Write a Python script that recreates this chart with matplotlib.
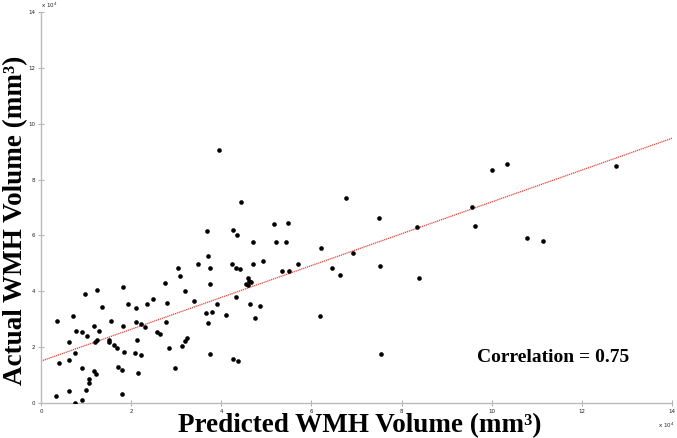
import matplotlib
matplotlib.use("Agg")
import matplotlib.pyplot as plt
import numpy as np

# Data (units of 1e4 mm^3)
predicted = [0.35, 0.41, 0.33, 0.63, 0.62, 0.63, 0.72, 0.75, 0.75, 0.78,
             0.90, 0.92, 0.92, 0.98, 1.01, 0.99, 1.06, 1.07, 1.17, 1.17,
             1.20, 1.23, 1.24, 1.25, 1.28, 1.36, 1.50, 1.51, 1.56, 1.62,
             1.68, 1.71, 1.79, 1.81, 1.82, 1.85, 1.80, 1.92, 2.11, 2.10,
             2.09, 2.13, 2.15, 2.21, 2.22, 2.31, 2.36, 2.49, 2.57, 2.65,
             2.76, 2.79, 2.78, 2.85, 2.97, 3.05, 3.08, 3.12, 3.19, 3.20,
             3.24, 3.39, 3.49, 3.66, 3.69, 3.71, 3.71, 3.74, 3.76, 3.74,
             3.79, 3.90, 4.11, 4.23, 4.26, 4.26, 4.32, 4.33, 4.35, 4.38,
             4.41, 4.44, 4.55, 4.60, 4.62, 4.59, 4.64, 4.67, 4.70, 4.71,
             4.74, 4.85, 4.93, 5.17, 5.21, 5.34, 5.43, 5.48, 5.51, 5.70,
             6.21, 6.19, 6.77, 6.46, 6.64, 6.92, 7.50, 7.53, 8.35, 8.38,
             9.56, 9.62, 10.01, 10.33, 10.78, 11.13, 12.75, 3.96, 7.54]
actual = [2.93, 1.43, 0.26, 0.44, 1.55, 2.20, 3.11, 1.80, 0.00, 2.59,
          2.53, 1.27, 0.10, 3.90, 2.40, 0.48, 0.85, 0.72, 2.74, 1.15,
          2.18, 1.03, 4.06, 2.24, 2.59, 3.44, 2.25, 2.18, 2.94, 2.06,
          1.97, 1.28, 1.18, 2.74, 4.15, 1.81, 0.31, 3.56, 3.41, 2.90,
          1.79, 2.24, 1.09, 2.83, 1.71, 2.72, 3.55, 3.72, 2.53, 2.46,
          4.28, 3.58, 2.91, 1.96, 1.25, 4.83, 4.55, 2.03, 4.02, 2.22,
          2.32, 3.67, 4.96, 3.24, 6.15, 5.28, 2.86, 4.83, 4.25, 1.77,
          3.26, 3.56, 3.15, 4.99, 6.19, 1.57, 4.83, 3.79, 6.00, 1.51,
          4.80, 7.18, 4.27, 4.49, 4.38, 4.23, 3.54, 4.33, 4.96, 5.76,
          3.05, 3.46, 5.10, 6.40, 5.77, 4.74, 5.75, 6.45, 4.72, 4.97,
          5.54, 3.13, 7.33, 4.83, 4.58, 5.37, 6.61, 4.90, 6.31, 4.49,
          7.01, 6.34, 8.33, 8.57, 5.92, 5.79, 8.49, 9.06, 1.77]

fit_intercept = 1.50
fit_slope = 0.570
fit_range = [0, 14]

x_ticks = [0, 2, 4, 6, 8, 10, 12, 14]
y_ticks = [0, 2, 4, 6, 8, 10, 12, 14]

fig = plt.figure(figsize=(6.77, 4.38), dpi=100)
ax = fig.add_axes([41/677, 35/438, 631/677, 391/438])

ax.scatter(predicted, actual, s=11, c='black', linewidths=0, zorder=3)
fx = np.array(fit_range, dtype=float)
ax.plot(fx, fit_intercept + fit_slope * fx, color='#e0463c', lw=0.9,
        linestyle=(0, (1, 0.6)), zorder=2)

ax.set_xlim(0, 14)
ax.set_ylim(0, 14)
ax.set_xticks(x_ticks)
ax.set_yticks(y_ticks)
ax.set_xticklabels([str(t) for t in x_ticks])
ax.set_yticklabels([str(t) for t in y_ticks])
ax.tick_params(axis='both', labelsize=4, length=4, width=0.6, color='#a0a0a0',
               direction='inout', pad=2, labelcolor='#222222')

for s in ['top', 'right']:
    ax.spines[s].set_visible(False)
for s in ['left', 'bottom']:
    ax.spines[s].set_color('#bbbbbb')
    ax.spines[s].set_linewidth(1.0)

# offset labels
ax.text(0.0, 1.005, r'x 10$^{4}$', transform=ax.transAxes, fontsize=4,
        ha='left', va='bottom', color='#222222')
ax.text(0.99, -0.045, r'x 10$^{4}$', transform=ax.transAxes, fontsize=4,
        ha='center', va='top', color='#222222')

serif = ['Liberation Serif', 'DejaVu Serif']
fig.text(360/677, 1 - 432/438, 'Predicted WMH Volume (mm\u00b3)',
         fontsize=19.5, fontweight='bold', family=serif, ha='center', va='baseline')
fig.text(22/677, 1 - 220/438, 'Actual WMH Volume (mm\u00b3)',
         fontsize=19.5, fontweight='bold', family=serif, ha='center', va='baseline',
         rotation=90, rotation_mode='anchor')
fig.text(553/677, 1 - 357/438, 'Correlation = 0.75', fontsize=14,
         fontweight='bold', family=serif, ha='center', va='center')

fig.savefig('out.png', dpi=100)
